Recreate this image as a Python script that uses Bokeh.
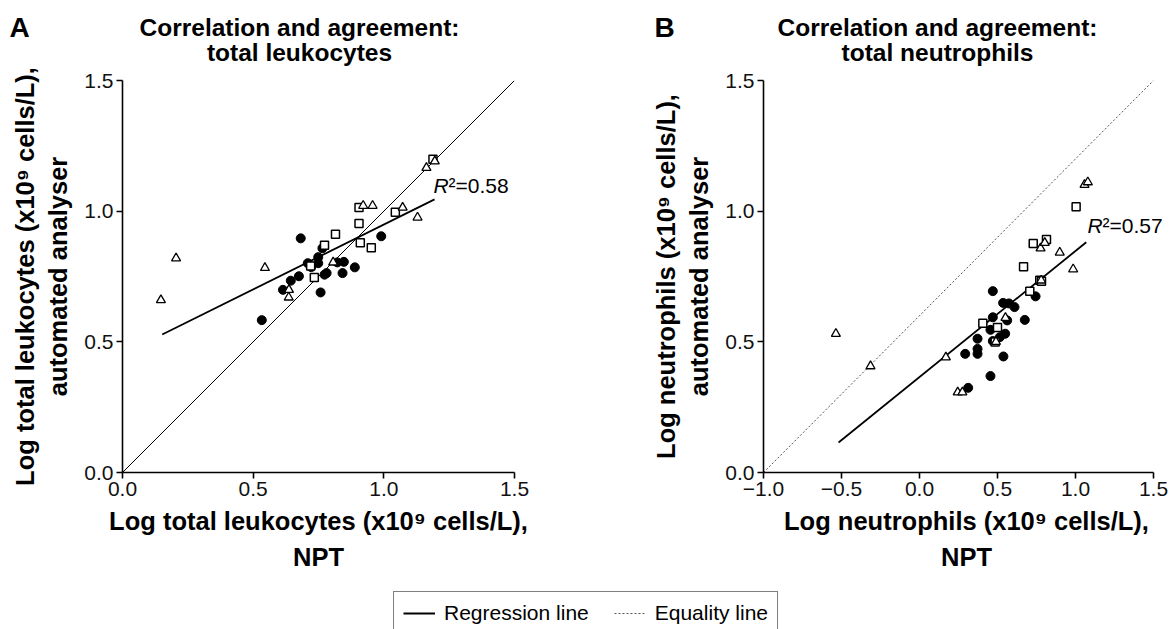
from bokeh.plotting import figure
from bokeh.models import (Range1d, FixedTicker, CustomJSTickFormatter, Label,
                          Legend, LegendItem)
from bokeh.layouts import column, row
from bokeh.embed import file_html
from bokeh.resources import INLINE

FONT = "Liberation Sans"
NAN = float("nan")

# ---------------- Panel A: total leukocytes ----------------
a_circle_x = [0.533, 0.614, 0.644, 0.675, 0.682, 0.709, 0.722, 0.749, 0.749, 0.765,
              0.758, 0.773, 0.781, 0.822, 0.847, 0.842, 0.889, 0.990]
a_circle_y = [0.583, 0.699, 0.734, 0.751, 0.896, 0.801, 0.786, 0.824, 0.801, 0.858,
              0.689, 0.757, 0.763, 0.804, 0.806, 0.763, 0.785, 0.904]
a_square_x = [1.188, 0.905, 0.905, 0.815, 0.773, 0.910, 0.952, 1.044, 0.734, 0.720]
a_square_y = [1.199, 1.014, 0.953, 0.912, 0.870, 0.879, 0.860, 0.996, 0.746, 0.790]
a_tri_x = [0.147, 0.205, 0.545, 0.637, 0.636, 0.806, 0.921, 0.957, 1.072, 1.129, 1.163, 1.195]
a_tri_y = [0.660, 0.820, 0.783, 0.699, 0.670, 0.804, 1.021, 1.021, 1.014, 0.976, 1.166, 1.191]
a_reg_x = [0.152, 1.194]
a_reg_y = [0.528, 1.045]
a_eq_x = [0.0, 1.5]
a_eq_y = [0.0, 1.5]
a_r2 = "0.58"

# ---------------- Panel B: total neutrophils ----------------
b_circle_x = [0.470, 0.536, 0.573, 0.609, 0.744, 0.470, 0.562, 0.675, 0.455, 0.549,
              0.515, 0.470, 0.372, 0.372, 0.372, 0.293, 0.538, 0.455, 0.312]
b_circle_y = [0.694, 0.649, 0.647, 0.633, 0.674, 0.594, 0.582, 0.584, 0.546, 0.531,
              0.518, 0.503, 0.512, 0.473, 0.454, 0.454, 0.444, 0.369, 0.324]
b_square_x = [1.004, 0.814, 0.729, 0.667, 0.771, 0.707, 0.406, 0.500, 0.485, 0.782]
b_square_y = [1.017, 0.892, 0.876, 0.787, 0.736, 0.694, 0.571, 0.555, 0.499, 0.732]
b_tri_x = [-0.536, -0.314, 0.169, 0.551, 0.776, 0.803, 0.899, 0.985, 1.058, 1.079,
           0.780, 0.490, 0.245, 0.275]
b_tri_y = [0.531, 0.407, 0.441, 0.592, 0.858, 0.879, 0.842, 0.778, 1.101, 1.111,
           0.735, 0.500, 0.307, 0.307]
b_reg_x = [-0.519, 1.069]
b_reg_y = [0.115, 0.881]
b_eq_x = [-1.0, 1.5]
b_eq_y = [0.0, 1.5]
b_r2 = "0.57"

# ---------------- ticks & texts ----------------
a_xticks = [0.0, 0.5, 1.0, 1.5]
a_xlabels = ["0.0", "0.5", "1.0", "1.5"]
b_xticks = [-1.0, -0.5, 0.0, 0.5, 1.0, 1.5]
b_xlabels = ["\u22121.0", "\u22120.5", "0.0", "0.5", "1.0", "1.5"]
yticks = [0.0, 0.5, 1.0, 1.5]
ylabels = ["0.0", "0.5", "1.0", "1.5"]

title_line1 = "Correlation and agreement:"
a_title2 = "total leukocytes"
b_title2 = "total neutrophils"
a_xlab = "Log total leukocytes (x10\u2079 cells/L),\nNPT"
a_ylab = "Log total leukocytes (x10\u2079 cells/L),\nautomated analyser"
b_xlab = "Log neutrophils (x10\u2079 cells/L),\nNPT"
b_ylab = "Log neutrophils (x10\u2079 cells/L),\nautomated analyser"

HEAD_H = 67
FRAME_TOP = 80
FRAME_H = 392
PX_PER_X_A = 392 / 1.5
PX_PER_X_B = 390 / 2.5
BASE_SHIFT = 0.38  # Label alphabetic baseline renders ~0.38em low; compensate


def fmt(ticks, labels):
    return CustomJSTickFormatter(args=dict(vals=ticks, labs=labels), code="""
        for (let i = 0; i < vals.length; i++) {
            if (Math.abs(vals[i] - tick) < 1e-9) return labs[i];
        }
        return tick.toFixed(1).replace('-', '\\u2212');
    """)


def make_panel(width, bl, br, xr, xbounds, xticks, xlabels, cx, cy, sx, sy, tx, ty,
               regx, regy, eqx, eqy, eq_dash, eq_color, xlab, ylab):
    top = FRAME_TOP - HEAD_H
    p = figure(width=width, height=top + FRAME_H + 118, x_range=Range1d(*xr),
               y_range=Range1d(0, 1.5),
               toolbar_location=None, output_backend="svg",
               min_border_left=bl, min_border_right=br, min_border_top=top,
               min_border_bottom=118)
    p.grid.visible = False
    p.outline_line_color = None
    p.background_fill_color = "white"
    for ax, ticks, labels, bounds in ((p.xaxis[0], xticks, xlabels, xbounds),
                                      (p.yaxis[0], yticks, ylabels, (0.0, 1.5))):
        ax.bounds = bounds
        ax.ticker = FixedTicker(ticks=ticks, minor_ticks=[])
        ax.formatter = fmt(ticks, labels)
        ax.axis_line_color = "black"
        ax.axis_line_width = 1.6
        ax.major_tick_line_color = "black"
        ax.major_tick_line_width = 1.6
        ax.major_tick_out = 6
        ax.major_tick_in = 0
        ax.minor_tick_line_color = None
        ax.major_label_text_font = FONT
        ax.major_label_text_font_size = "21px"
        ax.major_label_text_color = "#111111"
        ax.major_label_standoff = 3
        ax.axis_label_text_font = FONT
        ax.axis_label_text_font_size = "25.5px"
        ax.axis_label_text_font_style = "bold"
        ax.axis_label_text_color = "black"
    p.xaxis[0].axis_label = xlab
    p.xaxis[0].axis_label_text_line_height = 1.3
    p.xaxis[0].axis_label_standoff = 8
    p.yaxis[0].axis_label = ylab
    p.yaxis[0].axis_label_text_line_height = 1.2
    p.yaxis[0].axis_label_standoff = 9

    p.line(eqx, eqy, line_color=eq_color, line_width=1, line_dash=eq_dash)
    p.line(regx, regy, line_color="black", line_width=1.8)
    p.scatter(cx, cy, marker="circle", size=9, fill_color="black", line_color="black")
    p.scatter(sx, sy, marker="square", size=8, fill_color="white", line_color="black",
              line_width=1.5)
    p.scatter(tx, ty, marker="triangle", size=9, fill_color="white", line_color="black",
              line_width=1.3)
    return p


pA = make_panel(600, 122, 86, (0.0, 1.5), (0.0, 1.5), a_xticks, a_xlabels,
                a_circle_x, a_circle_y, a_square_x, a_square_y, a_tri_x, a_tri_y,
                a_reg_x, a_reg_y, a_eq_x, a_eq_y, "solid", "black", a_xlab, a_ylab)
B_FRAME_W = 406
pB = make_panel(569, 163, 0, (-1.0, -1.0 + B_FRAME_W / PX_PER_X_B), (-1.0, 1.5),
                b_xticks, b_xlabels,
                b_circle_x, b_circle_y, b_square_x, b_square_y, b_tri_x, b_tri_y,
                b_reg_x, b_reg_y, b_eq_x, b_eq_y, "2 2", "#555555", b_xlab, b_ylab)

# R^2 annotations (italic R + normal rest), placed by pixel offset from frame
R2_SIZE = 21
for p, x0, kx, pos, r2 in ((pA, 0.0, 1 / PX_PER_X_A, (311, 193 - FRAME_TOP), a_r2),
                           (pB, -1.0, 1 / PX_PER_X_B, (324, 233 - FRAME_TOP), b_r2)):
    x = x0 + pos[0] * kx
    y = 1.5 - (pos[1] - BASE_SHIFT * R2_SIZE) * 1.5 / FRAME_H
    p.add_layout(Label(x=x, y=y, text="R", text_font=FONT, text_font_size=f"{R2_SIZE}px",
                       text_font_style="italic", text_baseline="alphabetic",
                       text_color="black"))
    p.add_layout(Label(x=x, y=y, x_offset=15, text="\u00b2=" + r2, text_font=FONT,
                       text_font_size=f"{R2_SIZE}px", text_baseline="alphabetic",
                       text_color="black"))

# ---------------- header strip: panel letters and titles ----------------
head = figure(width=1169, height=HEAD_H, x_range=Range1d(0, 1169),
              y_range=Range1d(HEAD_H, 0),
              toolbar_location=None, output_backend="svg", min_border=0,
              x_axis_location=None, y_axis_location=None)
head.grid.visible = False
head.outline_line_color = None
LETTER_SIZE, TITLE_SIZE = 28, 24.5
for letter, lx, tcx, t2 in (("A", 9, 299, a_title2), ("B", 654, 937, b_title2)):
    head.add_layout(Label(x=lx, y=38 - BASE_SHIFT * LETTER_SIZE, text=letter,
                          text_font=FONT, text_font_size=f"{LETTER_SIZE}px",
                          text_font_style="bold", text_baseline="alphabetic",
                          text_color="black"))
    for text, by in ((title_line1, 36), (t2, 61)):
        head.add_layout(Label(x=tcx, y=by - BASE_SHIFT * TITLE_SIZE, text=text,
                              text_font=FONT, text_font_size=f"{TITLE_SIZE}px",
                              text_font_style="bold", text_align="center",
                              text_baseline="alphabetic", text_color="black"))

# ---------------- legend strip ----------------
leg = figure(width=1169, height=39, x_range=Range1d(0, 1), y_range=Range1d(0, 1),
             toolbar_location=None, output_backend="svg", min_border=0,
             x_axis_location=None, y_axis_location=None)
leg.grid.visible = False
leg.outline_line_color = None
r_reg = leg.line(x=[NAN, NAN], y=[NAN, NAN], line_color="black", line_width=1.8)
r_eq = leg.line(x=[NAN, NAN], y=[NAN, NAN], line_color="#555555", line_width=1,
                line_dash="2 2")
legend = Legend(items=[LegendItem(label="Regression line", renderers=[r_reg]),
                       LegendItem(label="Equality line", renderers=[r_eq])],
                orientation="horizontal", location=(393, -6), margin=0,
                padding=9, spacing=25, glyph_width=32, glyph_height=20,
                label_standoff=9, label_height=20,
                label_text_font=FONT, label_text_font_size="21px",
                label_text_color="black",
                border_line_color="black", border_line_width=1.5,
                background_fill_color="white", background_fill_alpha=1.0)
leg.add_layout(legend)

layout = column(head, row(pA, pB), leg)
open("out.html", "w").write(file_html(layout, INLINE))
